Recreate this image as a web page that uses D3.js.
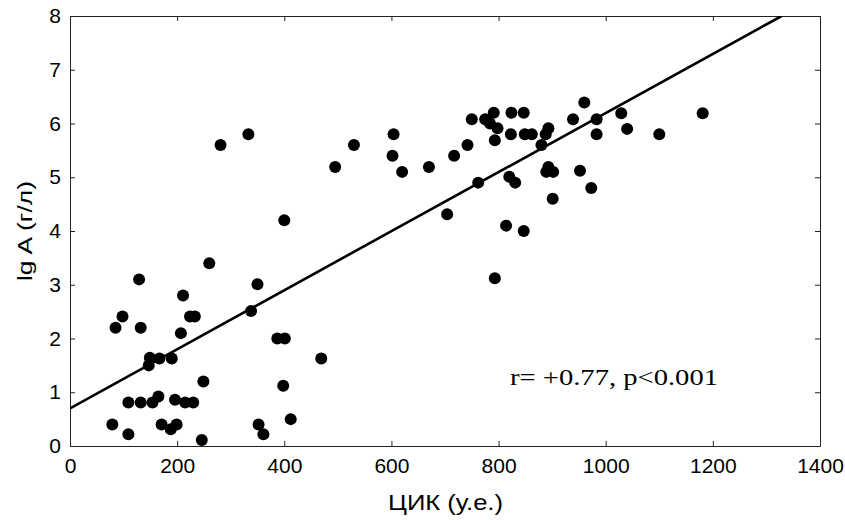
<!DOCTYPE html>
<html>
<head>
<meta charset="utf-8">
<script src="https://cdn.jsdelivr.net/npm/d3@7"></script>
<style>
  body { margin: 0; background: #fff; }
  .tick text { font-family: "Liberation Sans", Arial, sans-serif; font-size: 21px; fill: #000; }
</style>
</head>
<body>
<div id="chart"></div>
<script>
// data
var cikValues = [79, 85, 98, 109, 109, 129, 132, 132, 147, 149, 154, 165, 167, 171, 188, 190, 196, 199,
  207, 211, 215, 224, 230, 233, 246, 249, 260, 281, 333, 338, 350, 352, 361, 387, 398, 400, 401, 412,
  469, 495, 530, 602, 604, 620, 670, 704, 717, 742, 750, 762, 775, 784, 791, 793, 793, 798, 814, 820,
  824, 823, 831, 847, 847, 849, 862, 880, 888, 893, 893, 889, 902, 901, 939, 952, 960, 973, 983, 983,
  1029, 1040, 1100, 1181];
var lgAValues = [0.40, 2.20, 2.41, 0.81, 0.22, 3.10, 2.20, 0.81, 1.50, 1.64, 0.81, 0.92, 1.63, 0.40, 0.31, 1.63, 0.86, 0.40,
  2.10, 2.80, 0.81, 2.41, 0.81, 2.41, 0.11, 1.20, 3.40, 5.60, 5.80, 2.51, 3.01, 0.40, 0.22, 2.00, 1.12, 4.20, 2.00, 0.50,
  1.63, 5.19, 5.60, 5.40, 5.80, 5.10, 5.19, 4.31, 5.40, 5.60, 6.08, 4.90, 6.08, 6.00, 6.20, 5.69, 3.12, 5.91, 4.10, 5.01,
  6.20, 5.80, 4.90, 6.20, 4.00, 5.80, 5.80, 5.60, 5.80, 5.91, 5.19, 5.10, 5.10, 4.60, 6.08, 5.12, 6.39, 4.80, 6.08, 5.80,
  6.19, 5.90, 5.80, 6.19];
var xTicks = [0, 200, 400, 600, 800, 1000, 1200, 1400];
var yTicks = [0, 1, 2, 3, 4, 5, 6, 7, 8];
// regression line: lgA = intercept + slope * CIK
var intercept = 0.70;
var slope = 0.005495;

var points = cikValues.map(function (d, i) { return { x: d, y: lgAValues[i] }; });

var margin = { top: 16, right: 25, bottom: 74, left: 70 },
  width = 845 - margin.left - margin.right,
  height = 520 - margin.top - margin.bottom;

var x = d3.scaleLinear().domain([0, 1400]).range([0, width]);
var y = d3.scaleLinear().domain([0, 8]).range([height, 0]);

var svg = d3.select("#chart").append("svg")
  .attr("width", 845)
  .attr("height", 520)
  .append("g")
  .attr("transform", "translate(" + margin.left + "," + margin.top + ")");

svg.append("defs").append("clipPath").attr("id", "clip")
  .append("rect").attr("width", width).attr("height", height);

// axes, ticks pointing inside on all four sides
svg.append("g")
  .attr("transform", "translate(0," + height + ")")
  .call(d3.axisBottom(x).tickValues(xTicks).tickFormat(d3.format("d"))
    .tickSize(-5).tickSizeOuter(0).tickPadding(12));

svg.append("g")
  .call(d3.axisTop(x).tickValues(xTicks).tickSize(-5).tickSizeOuter(0).tickFormat(""));

svg.append("g")
  .call(d3.axisLeft(y).tickValues(yTicks).tickSize(-5).tickSizeOuter(0).tickPadding(9));

svg.append("g")
  .attr("transform", "translate(" + width + ",0)")
  .call(d3.axisRight(y).tickValues(yTicks).tickSize(-5).tickSizeOuter(0).tickFormat(""));

svg.selectAll(".domain").attr("stroke", "#222");
svg.selectAll(".tick line").attr("stroke", "#222");

// regression line
var xEnd = (8 - intercept) / slope;
svg.append("line")
  .attr("clip-path", "url(#clip)")
  .attr("x1", x(0)).attr("y1", y(intercept))
  .attr("x2", x(xEnd)).attr("y2", y(intercept + slope * xEnd))
  .attr("stroke", "#000")
  .attr("stroke-width", 2.6);

// points
svg.selectAll(".dot")
  .data(points)
  .enter().append("circle")
  .attr("class", "dot")
  .attr("cx", function (d) { return x(d.x); })
  .attr("cy", function (d) { return y(d.y); })
  .attr("r", 6)
  .attr("fill", "#000");

// annotation
svg.append("text")
  .attr("x", 440)
  .attr("y", 369)
  .attr("font-family", "'Liberation Serif', 'Times New Roman', serif")
  .attr("font-size", "23px")
  .attr("textLength", 208)
  .attr("lengthAdjust", "spacingAndGlyphs")
  .text("r= +0.77, p<0.001");

// axis titles
svg.append("text")
  .attr("x", width / 2 - 57)
  .attr("y", height + 64)
  .attr("font-family", "'Liberation Sans', Arial, sans-serif")
  .attr("font-size", "22px")
  .attr("textLength", 115)
  .attr("lengthAdjust", "spacingAndGlyphs")
  .text("ЦИК (у.е.)");

svg.append("text")
  .attr("transform", "translate(" + (32 - margin.left) + "," + (height / 2 + 50) + ") rotate(-90)")
  .attr("font-family", "'Liberation Sans', Arial, sans-serif")
  .attr("font-size", "20px")
  .attr("textLength", 100)
  .attr("lengthAdjust", "spacingAndGlyphs")
  .text("lg A (г/л)");
</script>
</body>
</html>
